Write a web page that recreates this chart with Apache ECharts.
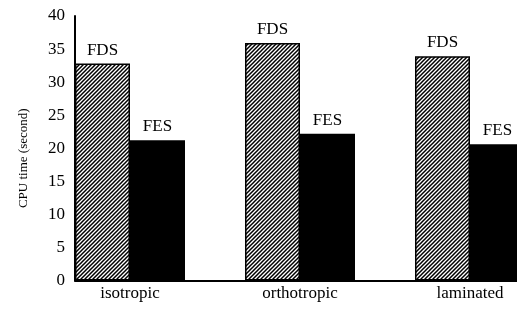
<!DOCTYPE html>
<html>
<head>
<meta charset="utf-8">
<script src="https://cdn.jsdelivr.net/npm/echarts@6/dist/echarts.min.js"></script>
<style>html,body{margin:0;padding:0;background:#fff;}#c{width:517px;height:311px;}</style>
</head>
<body>
<div id="c"></div>
<script>
var categories = ['isotropic', 'orthotropic', 'laminated'];
var fdsValues = [32.8, 35.9, 33.9];
var fesValues = [21.2, 22.2, 20.6];
var yTicks = [0, 5, 10, 15, 20, 25, 30, 35, 40];

function hatch() {
  var c = document.createElement('canvas');
  c.width = 4; c.height = 4;
  var g = c.getContext('2d');
  g.fillStyle = '#fff'; g.fillRect(0, 0, 4, 4);
  g.strokeStyle = '#000'; g.lineWidth = 1.5;
  g.beginPath();
  g.moveTo(-1, 5); g.lineTo(5, -1);
  g.moveTo(-3, 3); g.lineTo(3, -3);
  g.moveTo(1, 7); g.lineTo(7, 1);
  g.stroke();
  return c;
}

var font = '"Liberation Serif", "Times New Roman", serif';
var chart = echarts.init(document.getElementById('c'), null, {renderer: 'canvas'});
chart.setOption({
  animation: false,
  backgroundColor: '#fff',
  grid: {left: 75, width: 510, top: 16, height: 264.5, containLabel: false, outerBoundsMode: 'none'},
  xAxis: {
    type: 'category',
    data: categories,
    axisLine: {show: true, lineStyle: {color: '#000', width: 2}},
    axisTick: {show: false},
    axisLabel: {color: '#000', fontFamily: font, fontSize: 17, margin: 5, padding: [0, 60, 0, 0]}
  },
  yAxis: {
    type: 'value',
    min: yTicks[0], max: yTicks[yTicks.length - 1], interval: 5,
    name: 'CPU time (second)',
    nameLocation: 'middle',
    nameRotate: 90,
    nameGap: 45,
    nameTextStyle: {color: '#000', fontFamily: font, fontSize: 13, padding: [0, 20, 0, 0]},
    axisLine: {show: true, lineStyle: {color: '#000', width: 2}},
    axisTick: {show: false},
    splitLine: {show: false},
    axisLabel: {color: '#000', fontFamily: font, fontSize: 17, margin: 10}
  },
  series: [
    {
      name: 'FDS', type: 'bar', data: fdsValues, barWidth: 55, barGap: 0,
      itemStyle: {color: {image: hatch(), repeat: 'repeat'}, borderColor: '#000', borderWidth: 1.5},
      label: {show: true, position: 'top', formatter: 'FDS', color: '#000', fontFamily: font, fontSize: 17}
    },
    {
      name: 'FES', type: 'bar', data: fesValues, barWidth: 55, barGap: 0,
      itemStyle: {color: '#000'},
      label: {show: true, position: 'top', formatter: 'FES', color: '#000', fontFamily: font, fontSize: 17}
    },
    {
      name: 'gap', type: 'bar', data: ['-', '-', '-'], barWidth: 60, barGap: 0,
      itemStyle: {color: 'rgba(0,0,0,0)'}, silent: true
    }
  ]
});
</script>
</body>
</html>
